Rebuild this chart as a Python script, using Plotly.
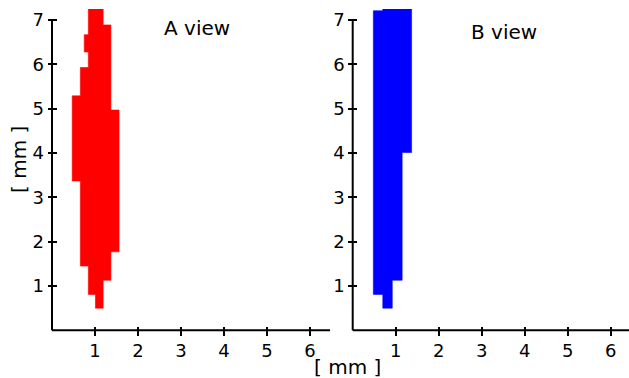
import plotly.graph_objects as go

# ---- data (units: mm) ----
# A view (red): horizontal bands
a_lo    = [0.50, 0.81, 1.13, 1.45, 1.77, 3.37, 4.97, 5.29, 5.93, 6.28, 6.67, 6.89]
a_hi    = [0.81, 1.13, 1.45, 1.77, 3.37, 4.97, 5.29, 5.93, 6.28, 6.67, 6.89, 7.25]
a_left  = [1.01, 0.845, 0.845, 0.66, 0.66, 0.47, 0.47, 0.66, 0.845, 0.75, 0.845, 0.845]
a_right = [1.19, 1.19, 1.37, 1.37, 1.56, 1.56, 1.37, 1.37, 1.37, 1.37, 1.37, 1.19]

# B view (blue): horizontal bands
b_lo    = [0.50, 0.81, 1.13, 4.01, 7.21]
b_hi    = [0.81, 1.13, 4.01, 7.21, 7.25]
b_left  = [0.70, 0.48, 0.48, 0.48, 0.70]
b_right = [0.92, 0.92, 1.15, 1.37, 1.37]

x_ticks = [1, 2, 3, 4, 5, 6]
y_ticks = [1, 2, 3, 4, 5, 6, 7]
titles = ["A view", "B view"]
axis_label = "[ mm ]"

W, H = 629, 378
FONT = "DejaVu Sans"


def band_trace(lo, hi, left, right, color, xa, ya):
    xs, ys = [], []
    for i in range(len(lo)):
        xs += [right[i], right[i]]
        ys += [lo[i], hi[i]]
    for i in reversed(range(len(lo))):
        xs += [left[i], left[i]]
        ys += [hi[i], lo[i]]
    xs.append(xs[0])
    ys.append(ys[0])
    return go.Scatter(
        x=xs, y=ys, mode="lines", fill="toself", fillcolor=color,
        line=dict(width=0.6, color=color),
        xaxis=xa, yaxis=ya, showlegend=False, hoverinfo="skip",
    )


fig = go.Figure()
fig.add_trace(band_trace(a_lo, a_hi, a_left, a_right, "#ff0000", "x", "y"))
fig.add_trace(band_trace(b_lo, b_hi, b_left, b_right, "#0000ff", "x2", "y2"))

ydom = [(H - 330.3) / H, (H - 9) / H]
left_px = [52.0, 352.7]
right_px = [330.0, 629.0]
ppu = 43.0
ymax = 7.25
off = 4.5

common_x = dict(showgrid=False, zeroline=False, showline=False, ticks="outside",
                ticklen=9, tickwidth=2, tickcolor="black", tickvals=x_ticks,
                tickfont=dict(family=FONT, size=18, color="black"))
common_y = dict(showgrid=False, zeroline=False, showline=False, ticks="outside",
                ticklen=9, tickwidth=2, tickcolor="black", tickvals=y_ticks,
                range=[0, ymax], domain=ydom,
                tickfont=dict(family=FONT, size=18, color="black"))

for i in range(2):
    xn = "xaxis" if i == 0 else "xaxis2"
    yn = "yaxis" if i == 0 else "yaxis2"
    xr = (right_px[i] - left_px[i]) / ppu
    fig.layout[xn] = dict(common_x, domain=[left_px[i] / W, right_px[i] / W],
                          range=[0, xr], anchor="free",
                          position=(H - 330.3 + off) / H)
    fig.layout[yn] = dict(common_y, anchor="free",
                          position=(left_px[i] + off) / W)

# spines
for xd, yd in (("x domain", "y domain"), ("x2 domain", "y2 domain")):
    fig.add_shape(type="line", xref=xd, yref=yd, x0=0, x1=1, y0=0, y1=0,
                  line=dict(color="black", width=2))
    fig.add_shape(type="line", xref=xd, yref=yd, x0=0, x1=0, y0=0, y1=7 / ymax,
                  line=dict(color="black", width=2))

# titles and axis labels
def label(text, xpx, ypx, angle=0):
    fig.add_annotation(text=text, xref="paper", yref="paper", x=xpx / W, y=1 - ypx / H,
                       xanchor="center", yanchor="middle", textangle=angle,
                       showarrow=False, font=dict(family=FONT, size=20, color="black"))


label(titles[0], 197.3, 27.5)
label(titles[1], 504, 31.5)
label(axis_label, 347.5, 366.5)
label(axis_label, 19, 160, -90)

fig.update_layout(
    width=W, height=H, margin=dict(l=0, r=0, t=0, b=0),
    paper_bgcolor="white", plot_bgcolor="white",
    font=dict(family=FONT, color="black"),
)

fig.write_html("out.html")
